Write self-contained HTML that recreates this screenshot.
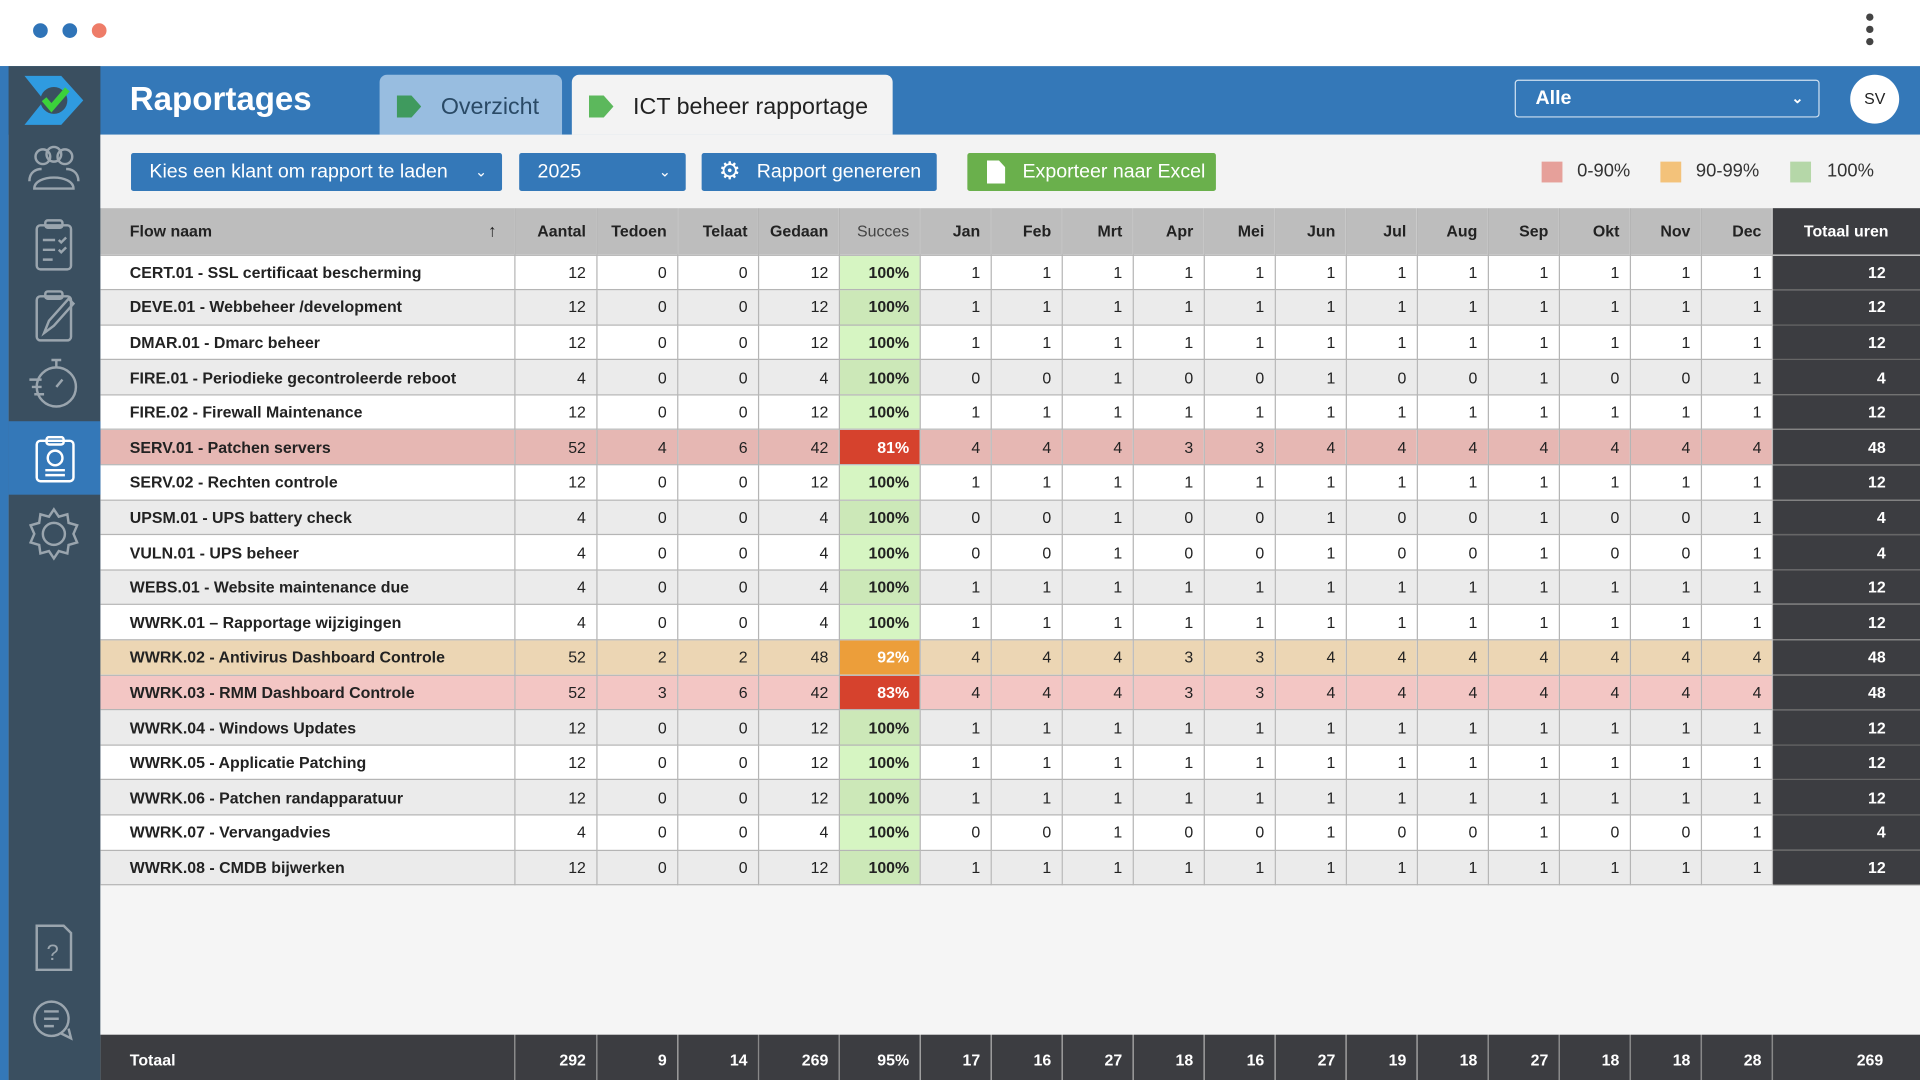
<!DOCTYPE html>
<html><head><meta charset="utf-8"><style>
*{box-sizing:border-box;margin:0;padding:0}
html,body{width:1920px;height:1080px;overflow:hidden;background:#fff}
#s{position:absolute;left:0;top:0;width:1568px;height:882px;transform:scale(1.22449);transform-origin:0 0;font-family:"Liberation Sans",sans-serif;background:#fff}
.a{position:absolute}
.dot{position:absolute;top:19px;width:12px;height:12px;border-radius:50%}
.btn{position:absolute;top:125px;height:31px;border-radius:2px;color:#fff;font-size:16px;line-height:31px}
table{position:absolute;left:82px;top:170px;border-collapse:collapse;table-layout:fixed;width:1486px;font-size:13px;color:#222}
td,th{border-right:1px solid #b5b5b5;border-bottom:1px solid #b5b5b5;text-align:right;padding-right:8px;height:28.6px;white-space:nowrap;overflow:hidden;vertical-align:middle}
th{height:38px;background:#bdbdbd;font-weight:bold;font-size:13px;color:#222;vertical-align:middle;position:relative}
td:first-child,th:first-child{text-align:left;padding-left:24px;font-weight:bold}
tr.g td{background:#ebebeb}
tr.w td{background:#fff}
tr.r td{background:#e6b7b3}
tr.o td{background:#ecd6b4}
tr.p td{background:#f3c6c4}
td.s{background:#d6f5c2!important;font-weight:bold}
tr.g td.s{background:#cce8b8!important}
td.sr{background:#d6422d!important;color:#fff;font-weight:bold}
td.so{background:#ec9e3a!important;color:#fff;font-weight:bold}
table td.t{background:#3c3d41;color:#fff;font-weight:bold;border-bottom:1px solid #666;border-right:none;padding-right:28px}
th.t{background:#3c3d41;color:#fff;text-align:center;padding-right:0;border-right:none}
.ft td{background:#3c3d41;color:#fff;font-weight:bold;height:37px;border-right:1px solid #888;border-bottom:none;padding-top:4px}
</style></head><body><div id="s">
<div class="dot" style="left:27px;background:#2f74b8"></div>
<div class="dot" style="left:51px;background:#2f74b8"></div>
<div class="dot" style="left:75px;background:#ee7c68"></div>
<div class="a" style="left:1524px;top:11px;width:6px;height:6px;border-radius:50%;background:#444;box-shadow:0 10px 0 #444,0 20px 0 #444"></div>
<div class="a" style="left:0;top:54px;width:1568px;height:56px;background:#3478b8"></div>
<div class="a" style="left:0;top:54px;width:7px;height:828px;background:#3478b8"></div>
<div class="a" style="left:7px;top:54px;width:75px;height:828px;background:#3a4f60"></div>
<div class="a" style="left:7px;top:344px;width:75px;height:60px;background:#3478b8"></div>
<svg class="a" style="left:18px;top:60px" width="54" height="44" viewBox="0 0 54 44"><path d="M2 2h30l18 20-18 20H2l16-20z" fill="#2f9be0"/><circle cx="26" cy="22" r="11" fill="#3a4f60"/><path d="M18 21l6 7 13-15" stroke="#3bd23b" stroke-width="5" fill="none"/></svg>
<svg class="a" style="left:22px;top:118px" width="44" height="400" viewBox="0 0 44 400" fill="none" stroke="#9aa5ae" stroke-width="2">
<circle cx="13" cy="10" r="6"/><circle cx="22" cy="8" r="6"/><circle cx="31" cy="10" r="6"/><path d="M6 36c0-12 32-12 32 0z"/><path d="M2 30c0-8 6-10 10-10M42 30c0-8-6-10-10-10"/>
<rect x="8" y="66" width="28" height="36" rx="3"/><rect x="15" y="62" width="14" height="6" rx="2"/><path d="M13 78h10M13 86h10M13 94h8M26 78l2 2 4-4M26 86l2 2 4-4"/>
<rect x="8" y="124" width="28" height="36" rx="3"/><rect x="15" y="120" width="14" height="6" rx="2"/><path d="M14 154l4-10 16-18 4 4-16 18z"/>
<circle cx="24" cy="198" r="16"/><path d="M24 176v6M20 176h8M24 198l5-6M2 192h10M4 198h8M6 204h8"/>
</svg>
<svg class="a" style="left:28px;top:356px" width="34" height="38" viewBox="0 0 34 38" fill="none" stroke="#fff" stroke-width="2"><rect x="2" y="4" width="30" height="33" rx="3"/><rect x="10" y="1" width="14" height="6" rx="2"/><circle cx="17" cy="18" r="6"/><path d="M9 28h16M9 32h16"/></svg>
<svg class="a" style="left:22px;top:414px" width="44" height="44" viewBox="0 0 44 44" fill="none" stroke="#9aa5ae" stroke-width="2"><circle cx="22" cy="22" r="9"/><path d="M22 2l4 6 7-2 1 7 7 2-3 7 3 7-7 2-1 7-7-2-4 6-4-6-7 2-1-7-7-2 3-7-3-7 7-2 1-7 7 2z"/></svg>
<svg class="a" style="left:26px;top:754px" width="36" height="96" viewBox="0 0 36 96" fill="none" stroke="#9aa5ae" stroke-width="2"><path d="M4 2h22l6 6v30H4z"/><text x="12" y="30" fill="#9aa5ae" stroke="none" font-size="18" font-family="Liberation Sans">?</text><circle cx="16" cy="78" r="14"/><path d="M10 72h12M10 78h12M10 84h8M24 90l8 4-2-8"/></svg>
<div class="a" style="left:106px;top:66px;font-size:27px;font-weight:bold;color:#fff">Raportages</div>
<div class="a" style="left:310px;top:61px;width:149px;height:49px;background:#98bde0;border-radius:6px 6px 0 0"></div>
<div class="a" style="left:324px;top:78px;width:20px;height:18px;background:#3f9a5e;clip-path:polygon(0 0,60% 0,100% 50%,60% 100%,0 100%)"></div>
<div class="a" style="left:360px;top:77px;font-size:19px;color:#2a4a66">Overzicht</div>
<div class="a" style="left:467px;top:61px;width:262px;height:49px;background:#f3f3f3;border-radius:6px 6px 0 0"></div>
<div class="a" style="left:481px;top:78px;width:20px;height:18px;background:#5cb85c;clip-path:polygon(0 0,60% 0,100% 50%,60% 100%,0 100%)"></div>
<div class="a" style="left:517px;top:77px;font-size:19px;color:#222">ICT beheer rapportage</div>
<div class="a" style="left:1237px;top:65px;width:249px;height:31px;border:1px solid #cfe0f0;border-radius:3px;color:#fff;font-size:16px;font-weight:bold;line-height:29px;padding-left:16px">Alle<span style="position:absolute;right:12px;font-size:12px">&#8964;</span></div>
<div class="a" style="left:1511px;top:61px;width:40px;height:40px;border-radius:50%;background:#fff;color:#222;font-size:13px;text-align:center;line-height:40px">SV</div>
<div class="a" style="left:82px;top:110px;width:1486px;height:60px;background:#f3f3f3"></div>
<div class="btn" style="left:107px;width:303px;background:#3478b8;padding-left:15px">Kies een klant om rapport te laden<span style="position:absolute;right:12px;font-size:12px">&#8964;</span></div>
<div class="btn" style="left:424px;width:136px;background:#3478b8;padding-left:15px">2025<span style="position:absolute;right:12px;font-size:12px">&#8964;</span></div>
<div class="btn" style="left:573px;width:192px;background:#3478b8;padding-left:45px"><span style="position:absolute;left:14px;font-size:20px">&#9881;</span>Rapport genereren</div>
<div class="btn" style="left:790px;width:203px;background:#6ab04c;padding-left:45px"><span style="position:absolute;left:16px;top:6px;width:15px;height:19px;background:#fff;clip-path:polygon(0 0,65% 0,100% 30%,100% 100%,0 100%)"></span>Exporteer naar Excel</div>
<div class="a" style="left:1259px;top:132px;width:17px;height:17px;background:#e6a09a"></div><div class="a" style="left:1288px;top:131px;font-size:15px;color:#333">0-90%</div>
<div class="a" style="left:1356px;top:132px;width:17px;height:17px;background:#f3c27a"></div><div class="a" style="left:1385px;top:131px;font-size:15px;color:#333">90-99%</div>
<div class="a" style="left:1462px;top:132px;width:17px;height:17px;background:#b5d7a8"></div><div class="a" style="left:1492px;top:131px;font-size:15px;color:#333">100%</div>
<div class="a" style="left:82px;top:722px;width:1486px;height:123px;background:#f5f5f5"></div>
<table>
<colgroup><col style="width:338px"><col style="width:67px"><col style="width:66px"><col style="width:66px"><col style="width:66px"><col style="width:66px"><col style="width:58px"><col style="width:58px"><col style="width:58px"><col style="width:58px"><col style="width:58px"><col style="width:58px"><col style="width:58px"><col style="width:58px"><col style="width:58px"><col style="width:58px"><col style="width:58px"><col style="width:58px"><col style="width:121px"></colgroup>
<tr><th>Flow naam<span style="position:absolute;right:14px;top:10px;font-size:14px">&#8593;</span></th><th>Aantal</th><th>Tedoen</th><th>Telaat</th><th>Gedaan</th><th style="font-weight:normal;color:#444">Succes</th><th>Jan</th><th>Feb</th><th>Mrt</th><th>Apr</th><th>Mei</th><th>Jun</th><th>Jul</th><th>Aug</th><th>Sep</th><th>Okt</th><th>Nov</th><th>Dec</th><th class="t">Totaal uren</th></tr>
<tr class="w"><td>CERT.01 - SSL certificaat bescherming</td><td>12</td><td>0</td><td>0</td><td>12</td><td class="s">100%</td><td>1</td><td>1</td><td>1</td><td>1</td><td>1</td><td>1</td><td>1</td><td>1</td><td>1</td><td>1</td><td>1</td><td>1</td><td class="t">12</td></tr>
<tr class="g"><td>DEVE.01 - Webbeheer /development</td><td>12</td><td>0</td><td>0</td><td>12</td><td class="s">100%</td><td>1</td><td>1</td><td>1</td><td>1</td><td>1</td><td>1</td><td>1</td><td>1</td><td>1</td><td>1</td><td>1</td><td>1</td><td class="t">12</td></tr>
<tr class="w"><td>DMAR.01 - Dmarc beheer</td><td>12</td><td>0</td><td>0</td><td>12</td><td class="s">100%</td><td>1</td><td>1</td><td>1</td><td>1</td><td>1</td><td>1</td><td>1</td><td>1</td><td>1</td><td>1</td><td>1</td><td>1</td><td class="t">12</td></tr>
<tr class="g"><td>FIRE.01 - Periodieke gecontroleerde reboot</td><td>4</td><td>0</td><td>0</td><td>4</td><td class="s">100%</td><td>0</td><td>0</td><td>1</td><td>0</td><td>0</td><td>1</td><td>0</td><td>0</td><td>1</td><td>0</td><td>0</td><td>1</td><td class="t">4</td></tr>
<tr class="w"><td>FIRE.02 - Firewall Maintenance</td><td>12</td><td>0</td><td>0</td><td>12</td><td class="s">100%</td><td>1</td><td>1</td><td>1</td><td>1</td><td>1</td><td>1</td><td>1</td><td>1</td><td>1</td><td>1</td><td>1</td><td>1</td><td class="t">12</td></tr>
<tr class="r"><td>SERV.01 - Patchen servers</td><td>52</td><td>4</td><td>6</td><td>42</td><td class="sr">81%</td><td>4</td><td>4</td><td>4</td><td>3</td><td>3</td><td>4</td><td>4</td><td>4</td><td>4</td><td>4</td><td>4</td><td>4</td><td class="t">48</td></tr>
<tr class="w"><td>SERV.02 - Rechten controle</td><td>12</td><td>0</td><td>0</td><td>12</td><td class="s">100%</td><td>1</td><td>1</td><td>1</td><td>1</td><td>1</td><td>1</td><td>1</td><td>1</td><td>1</td><td>1</td><td>1</td><td>1</td><td class="t">12</td></tr>
<tr class="g"><td>UPSM.01 - UPS battery check</td><td>4</td><td>0</td><td>0</td><td>4</td><td class="s">100%</td><td>0</td><td>0</td><td>1</td><td>0</td><td>0</td><td>1</td><td>0</td><td>0</td><td>1</td><td>0</td><td>0</td><td>1</td><td class="t">4</td></tr>
<tr class="w"><td>VULN.01 - UPS beheer</td><td>4</td><td>0</td><td>0</td><td>4</td><td class="s">100%</td><td>0</td><td>0</td><td>1</td><td>0</td><td>0</td><td>1</td><td>0</td><td>0</td><td>1</td><td>0</td><td>0</td><td>1</td><td class="t">4</td></tr>
<tr class="g"><td>WEBS.01 - Website maintenance due</td><td>4</td><td>0</td><td>0</td><td>4</td><td class="s">100%</td><td>1</td><td>1</td><td>1</td><td>1</td><td>1</td><td>1</td><td>1</td><td>1</td><td>1</td><td>1</td><td>1</td><td>1</td><td class="t">12</td></tr>
<tr class="w"><td>WWRK.01 – Rapportage wijzigingen</td><td>4</td><td>0</td><td>0</td><td>4</td><td class="s">100%</td><td>1</td><td>1</td><td>1</td><td>1</td><td>1</td><td>1</td><td>1</td><td>1</td><td>1</td><td>1</td><td>1</td><td>1</td><td class="t">12</td></tr>
<tr class="o"><td>WWRK.02 - Antivirus Dashboard Controle</td><td>52</td><td>2</td><td>2</td><td>48</td><td class="so">92%</td><td>4</td><td>4</td><td>4</td><td>3</td><td>3</td><td>4</td><td>4</td><td>4</td><td>4</td><td>4</td><td>4</td><td>4</td><td class="t">48</td></tr>
<tr class="p"><td>WWRK.03 - RMM Dashboard Controle</td><td>52</td><td>3</td><td>6</td><td>42</td><td class="sr">83%</td><td>4</td><td>4</td><td>4</td><td>3</td><td>3</td><td>4</td><td>4</td><td>4</td><td>4</td><td>4</td><td>4</td><td>4</td><td class="t">48</td></tr>
<tr class="g"><td>WWRK.04 - Windows Updates</td><td>12</td><td>0</td><td>0</td><td>12</td><td class="s">100%</td><td>1</td><td>1</td><td>1</td><td>1</td><td>1</td><td>1</td><td>1</td><td>1</td><td>1</td><td>1</td><td>1</td><td>1</td><td class="t">12</td></tr>
<tr class="w"><td>WWRK.05 - Applicatie Patching</td><td>12</td><td>0</td><td>0</td><td>12</td><td class="s">100%</td><td>1</td><td>1</td><td>1</td><td>1</td><td>1</td><td>1</td><td>1</td><td>1</td><td>1</td><td>1</td><td>1</td><td>1</td><td class="t">12</td></tr>
<tr class="g"><td>WWRK.06 - Patchen randapparatuur</td><td>12</td><td>0</td><td>0</td><td>12</td><td class="s">100%</td><td>1</td><td>1</td><td>1</td><td>1</td><td>1</td><td>1</td><td>1</td><td>1</td><td>1</td><td>1</td><td>1</td><td>1</td><td class="t">12</td></tr>
<tr class="w"><td>WWRK.07 - Vervangadvies</td><td>4</td><td>0</td><td>0</td><td>4</td><td class="s">100%</td><td>0</td><td>0</td><td>1</td><td>0</td><td>0</td><td>1</td><td>0</td><td>0</td><td>1</td><td>0</td><td>0</td><td>1</td><td class="t">4</td></tr>
<tr class="g"><td>WWRK.08 - CMDB bijwerken</td><td>12</td><td>0</td><td>0</td><td>12</td><td class="s">100%</td><td>1</td><td>1</td><td>1</td><td>1</td><td>1</td><td>1</td><td>1</td><td>1</td><td>1</td><td>1</td><td>1</td><td>1</td><td class="t">12</td></tr>
</table>
<table style="top:845px">
<colgroup><col style="width:338px"><col style="width:67px"><col style="width:66px"><col style="width:66px"><col style="width:66px"><col style="width:66px"><col style="width:58px"><col style="width:58px"><col style="width:58px"><col style="width:58px"><col style="width:58px"><col style="width:58px"><col style="width:58px"><col style="width:58px"><col style="width:58px"><col style="width:58px"><col style="width:58px"><col style="width:58px"><col style="width:121px"></colgroup>
<tr class="ft"><td>Totaal</td><td>292</td><td>9</td><td>14</td><td>269</td><td>95%</td><td>17</td><td>16</td><td>27</td><td>18</td><td>16</td><td>27</td><td>19</td><td>18</td><td>27</td><td>18</td><td>18</td><td>28</td><td style="border-right:none;padding-right:30px">269</td></tr>
</table>
</div></body></html>
